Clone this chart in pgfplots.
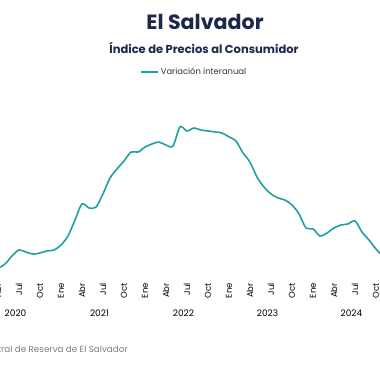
\documentclass[border=0pt]{standalone}
\usepackage{pgfplots}
\pgfplotsset{compat=1.18}
\usepackage{pgfplotstable}
\usepackage{fontspec}
\setmainfont{Poppins}
\definecolor{teal1}{RGB}{32,160,160}
\definecolor{navy1}{RGB}{28,40,72}
\definecolor{gray1}{RGB}{125,125,138}
\pgfplotstableread{
m v
0 0.27
1 0.14
2 -0.69
3 -1.27
4 -1.08
5 -0.56
6 -0.18
7 -0.31
8 -0.44
9 -0.37
10 -0.24
11 -0.18
12 0.14
13 0.72
14 1.74
15 2.77
16 2.51
17 2.57
18 3.41
19 4.43
20 5.01
21 5.52
22 6.09
23 6.09
24 6.41
25 6.61
26 6.73
27 6.54
28 6.48
29 7.70
30 7.44
31 7.63
32 7.50
33 7.44
34 7.38
35 7.31
36 7.06
37 6.80
38 6.03
39 5.45
40 4.49
41 3.85
42 3.41
43 3.15
44 3.02
45 2.70
46 2.13
47 1.23
48 1.17
49 0.72
50 0.91
51 1.23
52 1.42
53 1.49
54 1.68
55 0.97
56 0.46
57 -0.12
58 -0.56
59 -0.69
}\ipc
\begin{document}
\begin{tikzpicture}[x=1pt,y=1pt]
\clip (0,0) rectangle (380,380);
\fill[white] (0,0) rectangle (380,380);
\begin{axis}[
  x=7pt, y=15.62pt,
  anchor=south west, at={(-23pt,97pt)},
  xmin=0, xmax=60, ymin=-2.292, ymax=9,
  axis line style={draw=none},
  clip=false,
  xtick={0,3,...,57},
  xticklabels={Ene,Abr,Jul,Oct,Ene,Abr,Jul,Oct,Ene,Abr,Jul,Oct,Ene,Abr,Jul,Oct,Ene,Abr,Jul,Oct},
  xticklabel style={rotate=90, anchor=east, inner sep=0pt, font=\fontsize{8.5}{9}\selectfont, text=black},
  ytick=\empty,
  major tick length=0pt,
  legend style={draw=none, fill=none, inner sep=0pt, at={(0.388,1.196)}, anchor=west,
    font=\fontsize{8.4}{9}\selectfont, text=black!80},
  legend cell align=left,
]
\addplot[teal1, line width=1.6pt, smooth, tension=0.5] table[x=m,y=v]{\ipc};
\addlegendentry{Variación interanual}
\node[font=\fontsize{9}{10}\selectfont] at (axis cs:5.5,-4.21) {2020};
\node[font=\fontsize{9}{10}\selectfont] at (axis cs:17.5,-4.21) {2021};
\node[font=\fontsize{9}{10}\selectfont] at (axis cs:29.5,-4.21) {2022};
\node[font=\fontsize{9}{10}\selectfont] at (axis cs:41.5,-4.21) {2023};
\node[font=\fontsize{9}{10}\selectfont] at (axis cs:53.5,-4.21) {2024};
\end{axis}
\node[font=\bfseries\fontsize{20.6}{24}\selectfont, text=navy1] at (205,358) {El Salvador};
\node[font=\bfseries\fontsize{11.5}{13}\selectfont, text=navy1] at (204,332.3) {Índice de Precios al Consumidor};
\node[font=\fontsize{8.8}{10}\selectfont, text=gray1, anchor=east, inner sep=0pt] at (128,31) {Fuente: Banco Central de Reserva de El Salvador};
\end{tikzpicture}
\end{document}
